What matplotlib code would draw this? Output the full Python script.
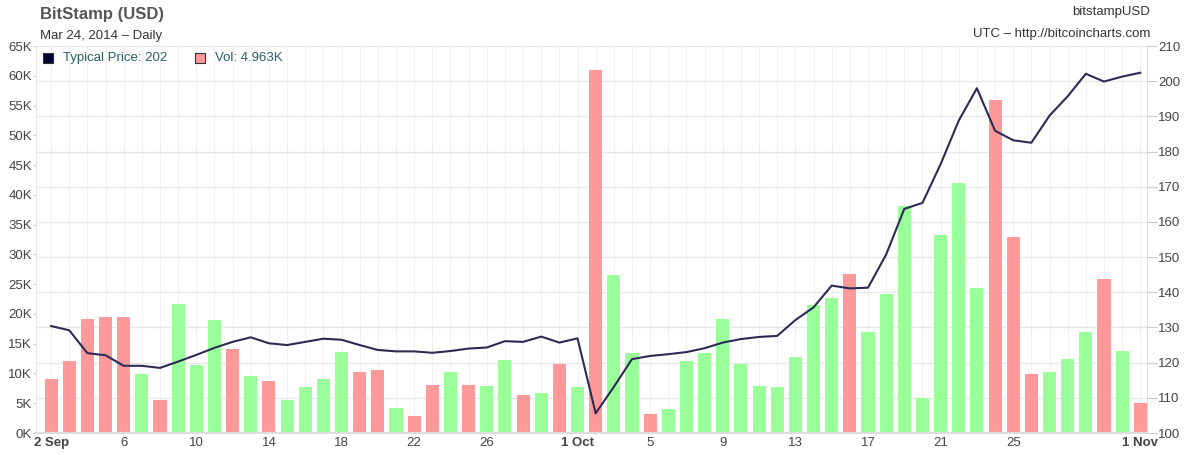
import numpy as np
import matplotlib
matplotlib.use('Agg')
import matplotlib.pyplot as plt
from matplotlib.lines import Line2D
from matplotlib.transforms import blended_transform_factory

plt.rcParams['font.family'] = ['Liberation Sans', 'DejaVu Sans']

# daily data, 2 Sep .. 1 Nov 2014
volume_k = [9.0, 12.1, 19.1, 19.5, 19.5, 9.9, 5.5, 21.7, 11.4, 18.9,
            14.1, 9.5, 8.8, 5.5, 7.7, 9.0, 13.6, 10.3, 10.6, 4.2,
            2.9, 8.0, 10.3, 8.1, 7.9, 12.3, 6.4, 6.8, 11.6, 7.7,
            61.0, 26.5, 13.4, 3.2, 4.0, 12.1, 13.4, 19.1, 11.6, 7.9,
            7.7, 12.8, 21.5, 22.6, 26.7, 16.9, 23.3, 38.2, 5.8, 33.3,
            42.0, 24.4, 56.0, 33.0, 9.9, 10.3, 12.5, 16.9, 25.8, 13.8,
            4.963]
up_day = [0, 0, 0, 0, 0, 1, 0, 1, 1, 1,
          0, 1, 0, 1, 1, 1, 1, 0, 0, 1,
          0, 0, 1, 0, 1, 1, 0, 1, 0, 1,
          0, 1, 1, 0, 1, 1, 1, 1, 1, 1,
          1, 1, 1, 1, 0, 1, 1, 1, 1, 1,
          1, 1, 0, 0, 0, 1, 1, 1, 0, 1,
          0]
price = [130.4, 129.2, 122.7, 122.1, 119.1, 119.1, 118.5, 120.3, 122.2, 124.2,
         125.9, 127.2, 125.5, 125.0, 125.9, 126.8, 126.5, 125.0, 123.6, 123.2,
         123.2, 122.8, 123.3, 124.0, 124.3, 126.1, 125.9, 127.4, 125.7, 126.9,
         105.6, 113.1, 121.0, 121.9, 122.4, 123.0, 124.1, 125.7, 126.7, 127.3,
         127.6, 132.1, 135.7, 141.9, 141.1, 141.3, 150.7, 163.7, 165.4, 176.4,
         188.8, 198.0, 185.9, 183.2, 182.5, 190.2, 195.7, 202.1, 199.9, 201.3,
         202.4]

tick_days = [0, 4, 8, 12, 16, 20, 24, 29, 33, 37, 41, 45, 49, 53, 60]
tick_labels = ['2 Sep', '6', '10', '14', '18', '22', '26', '1 Oct',
               '5', '9', '13', '17', '21', '25', '1 Nov']
vol_ticks = list(range(0, 65001, 5000))
price_ticks = list(range(100, 211, 10))

x = np.arange(len(volume_k))
vol = np.array(volume_k) * 1000
colors = ['#99ff99' if u else '#ff9999' for u in up_day]

fig = plt.figure(figsize=(11.9, 4.55), dpi=100)
ax = fig.add_axes([36 / 1190, 1 - 433 / 455, (1147 - 36) / 1190, (433 - 46) / 455])
ax2 = ax.twinx()

ax.set_xlim(-0.83, 60.37)
ax.set_ylim(0, 65000)
ax2.set_ylim(100, 210)

# vertical day grid
for d in x:
    ax.axvline(d, color='#f0f0f0', lw=0.8, zorder=0)
# horizontal grid follows the price axis
tr = blended_transform_factory(ax.transAxes, ax2.transData)
for p in price_ticks:
    ax.add_line(Line2D([0, 1], [p, p], transform=tr, color='#e8e8e8', lw=1.0, zorder=0.5))

ax.bar(x, vol, width=0.72, color=colors, zorder=2)
ax2.plot(x, price, color='#2b2b55', lw=1.5, zorder=3)

ax.set_yticks(vol_ticks)
ax.set_yticklabels(['%dK' % (v // 1000) for v in vol_ticks])
ax2.set_yticks(price_ticks)
ax.set_xticks(tick_days)
ax.set_xticklabels(tick_labels)
for lbl in ax.get_xticklabels():
    if not lbl.get_text().isdigit():
        lbl.set_fontweight('bold')

ax.tick_params(axis='y', length=2, width=0.8, color='#cccccc', labelsize=9.5,
               labelcolor='#444444', pad=1)
ax.tick_params(axis='x', length=0, labelsize=9.5, labelcolor='#444444', pad=3)
ax2.tick_params(axis='y', length=7, width=0.8, color='#cccccc', labelsize=9.5,
                labelcolor='#444444', pad=1)

for a in (ax, ax2):
    for s in a.spines.values():
        s.set_visible(False)
ax2.spines['right'].set_visible(True)
ax2.spines['right'].set_color('#dddddd')
ax.spines['left'].set_visible(True)
ax.spines['left'].set_color('#e6e6e6')
ax.spines['bottom'].set_visible(True)
ax.spines['bottom'].set_color('#dddddd')
ax.spines['bottom'].set_linewidth(1.5)

# header texts
fig.text(40 / 1190, 1 - 14 / 455, 'BitStamp (USD)', fontsize=12, fontweight='bold',
         color='#555555', va='center', ha='left')
fig.text(40 / 1190, 1 - 36 / 455, 'Mar 24, 2014 \u2013 Daily', fontsize=9.5,
         color='#333333', va='center', ha='left')
fig.text(1150 / 1190, 1 - 12 / 455, 'bitstampUSD', fontsize=9.5,
         color='#333333', va='center', ha='right')
fig.text(1150 / 1190, 1 - 34 / 455, 'UTC \u2013 http://bitcoincharts.com', fontsize=9.5,
         color='#333333', va='center', ha='right')

# legend
ax.scatter([0.0105], [0.97], marker='s', s=48, color='#000033', edgecolors='#333333',
           linewidths=0.8, transform=ax.transAxes, clip_on=False, zorder=5)
ax.text(0.024, 0.97, 'Typical Price: %d' % int(price[-1]), transform=ax.transAxes,
        fontsize=9.5, color='#2a5f5f', va='center', ha='left')
ax.scatter([0.1475], [0.97], marker='s', s=48, color='#ff9999', edgecolors='#333333',
           linewidths=0.8, transform=ax.transAxes, clip_on=False, zorder=5)
ax.text(0.161, 0.97, 'Vol: %.3fK' % volume_k[-1], transform=ax.transAxes,
        fontsize=9.5, color='#2a5f5f', va='center', ha='left')

fig.savefig('out.png', dpi=100)
